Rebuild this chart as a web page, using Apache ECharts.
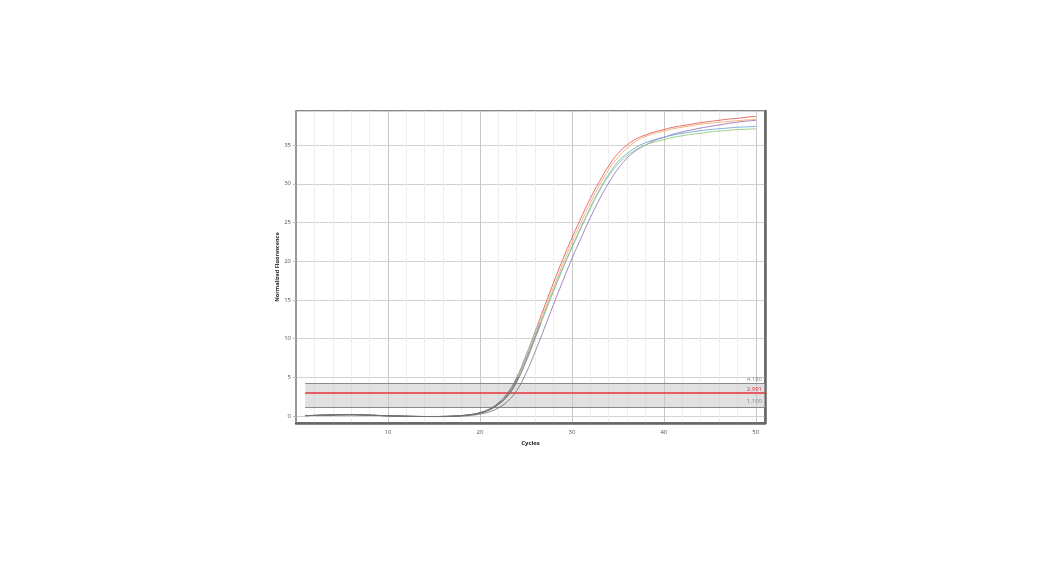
<!DOCTYPE html>
<html>
<head>
<meta charset="utf-8">
<script src="https://cdn.jsdelivr.net/npm/echarts@6/dist/echarts.min.js"></script>
<style>
html,body{margin:0;padding:0;background:#fff;}
#chart{width:1044px;height:563px;}
</style>
</head>
<body>
<div id="chart"></div>
<script>
// Cycles 1..50
const cycles = Array.from({length: 50}, (_, i) => i + 1);

const redValues = [0.05,0.08,0.11,0.14,0.16,0.17,0.15,0.11,0.07,0.03,0.0,-0.03,-0.05,-0.06,-0.06,-0.05,-0.01,0.07,0.2,0.45,0.9,1.7,3.0,5.0,7.8,10.9,14.1,17.2,20.2,23.0,25.6,28.1,30.3,32.3,33.9,35.0,35.8,36.3,36.7,37.0,37.3,37.5,37.7,37.9,38.05,38.2,38.35,38.45,38.6,38.7];
const orangeValues = [0.05,0.08,0.11,0.14,0.16,0.17,0.15,0.11,0.07,0.03,0.0,-0.03,-0.05,-0.06,-0.06,-0.05,-0.02,0.06,0.18,0.42,0.85,1.6,2.8,4.7,7.4,10.4,13.6,16.6,19.6,22.4,25.0,27.5,29.8,31.8,33.4,34.6,35.5,36.1,36.5,36.8,37.1,37.3,37.5,37.7,37.8,37.95,38.05,38.15,38.25,38.3];
const greenValues = [0.05,0.08,0.11,0.14,0.16,0.17,0.15,0.11,0.07,0.03,0.0,-0.03,-0.05,-0.06,-0.06,-0.05,-0.02,0.05,0.17,0.38,0.8,1.5,2.6,4.4,7.0,10.0,13.1,16.1,19.0,21.7,24.3,26.8,29.1,31.0,32.5,33.6,34.4,35.0,35.4,35.7,36.0,36.2,36.4,36.5,36.7,36.8,36.9,37.0,37.05,37.1];
const blueValues = [0.05,0.08,0.11,0.14,0.16,0.17,0.15,0.11,0.07,0.03,0.0,-0.03,-0.05,-0.06,-0.06,-0.05,-0.02,0.05,0.17,0.39,0.8,1.5,2.6,4.5,7.1,10.1,13.2,16.2,19.1,21.8,24.4,26.9,29.2,31.2,32.8,33.9,34.7,35.3,35.7,36.0,36.3,36.5,36.7,36.85,37.0,37.1,37.2,37.3,37.35,37.4];
const purpleValues = [0.05,0.08,0.11,0.14,0.16,0.17,0.15,0.11,0.07,0.03,0.0,-0.03,-0.05,-0.06,-0.07,-0.07,-0.05,-0.01,0.09,0.25,0.55,1.05,1.9,3.3,5.5,8.3,11.3,14.4,17.4,20.3,23.0,25.6,28.0,30.1,31.9,33.3,34.3,35.0,35.6,36.0,36.4,36.7,36.95,37.2,37.4,37.6,37.8,37.95,38.1,38.2];

const seriesNames = ['A5','A4','A3','A2','A1'];
const seriesColors = ['#9a72b8','#6ea6d6','#8ccc7c','#f2ad6c','#e45a54'];
const lowColors = ['#8a7a98','#80909a','#8a9a88','#9a9080','#9a8080'];
const seriesData = [purpleValues, blueValues, greenValues, orangeValues, redValues];

const yTickLabels = ['0','5','10','15','20','25','30','35'];
const xTickLabels = ['10','20','30','40','50'];

const thresholdValue = 2.991;
const bandUpper = 4.180;
const bandLower = 1.100;

const chart = echarts.init(document.getElementById('chart'), null, {renderer: 'canvas'});
const FONT = '"Open Sans", "DejaVu Sans", sans-serif';

const lineSeries = seriesData.map((vals, k) => ({
  name: seriesNames[k],
  type: 'line',
  data: cycles.map((c, i) => [c, vals[i]]),
  showSymbol: false,
  smooth: true,
  lineStyle: {width: 0.9},
  z: 5,
  silent: true
}));

const visualMaps = seriesColors.map((col, k) => ({
  type: 'piecewise',
  show: false,
  seriesIndex: k + 1,
  dimension: 1,
  pieces: [
    {lt: 5, color: '#707070'},
    {gte: 5, lt: 12, color: lowColors[k]},
    {gte: 12, color: col}
  ]
}));

const thresholdSeries = {
  name: 'threshold',
  type: 'line',
  data: [],
  silent: true,
  z: 3,
  markArea: {
    silent: true,
    itemStyle: {color: 'rgba(200,200,200,0.55)'},
    data: [[{coord: [1, bandLower]}, {coord: [51, bandUpper]}]]
  },
  markLine: {
    silent: true,
    symbol: ['none','none'],
    animation: false,
    data: [
      [{coord: [1, bandUpper], lineStyle: {color: '#8a8a8a', width: 1.2, type: 'solid'},
        label: {show: true, position: 'insideEndTop', formatter: bandUpper.toFixed(3), color: '#888', fontSize: 6, fontFamily: FONT, distance: [3, 1]}},
       {coord: [51, bandUpper]}],
      [{coord: [1, thresholdValue], lineStyle: {color: '#e8303a', width: 1.5, type: 'solid'},
        label: {show: true, position: 'insideEndTop', formatter: thresholdValue.toFixed(3), color: '#e8303a', fontSize: 6, fontFamily: FONT, distance: [3, 1]}},
       {coord: [51, thresholdValue]}],
      [{coord: [1, bandLower], lineStyle: {color: '#8a8a8a', width: 1.2, type: 'solid'},
        label: {show: true, position: 'insideEndTop', formatter: bandLower.toFixed(3), color: '#888', fontSize: 6, fontFamily: FONT, distance: [3, 3]}},
       {coord: [51, bandLower]}]
    ]
  }
};

const option = {
  backgroundColor: '#ffffff',
  animation: false,
  grid: {left: 296, right: 279, top: 111, bottom: 140, show: true, borderColor: '#111', borderWidth: 1, containLabel: false},
  visualMap: visualMaps,
  xAxis: {
    type: 'value',
    min: 0, max: 51, interval: 2,
    name: 'Cycles',
    nameLocation: 'middle',
    nameGap: 16,
    nameTextStyle: {fontSize: 6, fontWeight: 'bold', color: '#222', fontFamily: FONT},
    axisLine: {show: true, onZero: false, lineStyle: {color: '#666', width: 2.5}},
    axisTick: {show: false},
    axisLabel: {
      fontSize: 6, color: '#555', fontFamily: FONT, margin: 6,
      formatter: v => xTickLabels.includes(String(v)) ? String(v) : ''
    },
    splitLine: {show: true, lineStyle: {color: ['#c8c8c8','#eeeeee','#eeeeee','#eeeeee','#eeeeee'], width: 1}}
  },
  yAxis: [{
    type: 'value',
    min: -0.9, max: 39.4,
    splitNumber: 8, minInterval: 5, maxInterval: 5,
    name: 'Normalized Fluorescence',
    nameLocation: 'middle',
    nameGap: 14,
    nameRotate: 90,
    nameTextStyle: {fontSize: 5.5, fontWeight: 'bold', color: '#222', fontFamily: FONT},
    axisLine: {show: true, lineStyle: {color: '#999', width: 2}},
    axisTick: {show: true, length: 3, lineStyle: {color: '#bbb'}},
    axisLabel: {
      fontSize: 6, color: '#555', fontFamily: FONT, margin: 5,
      showMinLabel: false, showMaxLabel: false,
      formatter: v => yTickLabels.includes(String(v)) ? String(v) : ''
    },
    splitLine: {show: true, lineStyle: {color: '#d2d2d2', width: 1}}
  }, {
    type: 'value',
    position: 'right',
    min: -0.9, max: 39.4,
    axisLine: {show: true, lineStyle: {color: '#666', width: 2.5}},
    axisTick: {show: false},
    axisLabel: {show: false},
    splitLine: {show: false}
  }],
  series: [thresholdSeries].concat(lineSeries)
};

chart.setOption(option);
</script>
</body>
</html>
